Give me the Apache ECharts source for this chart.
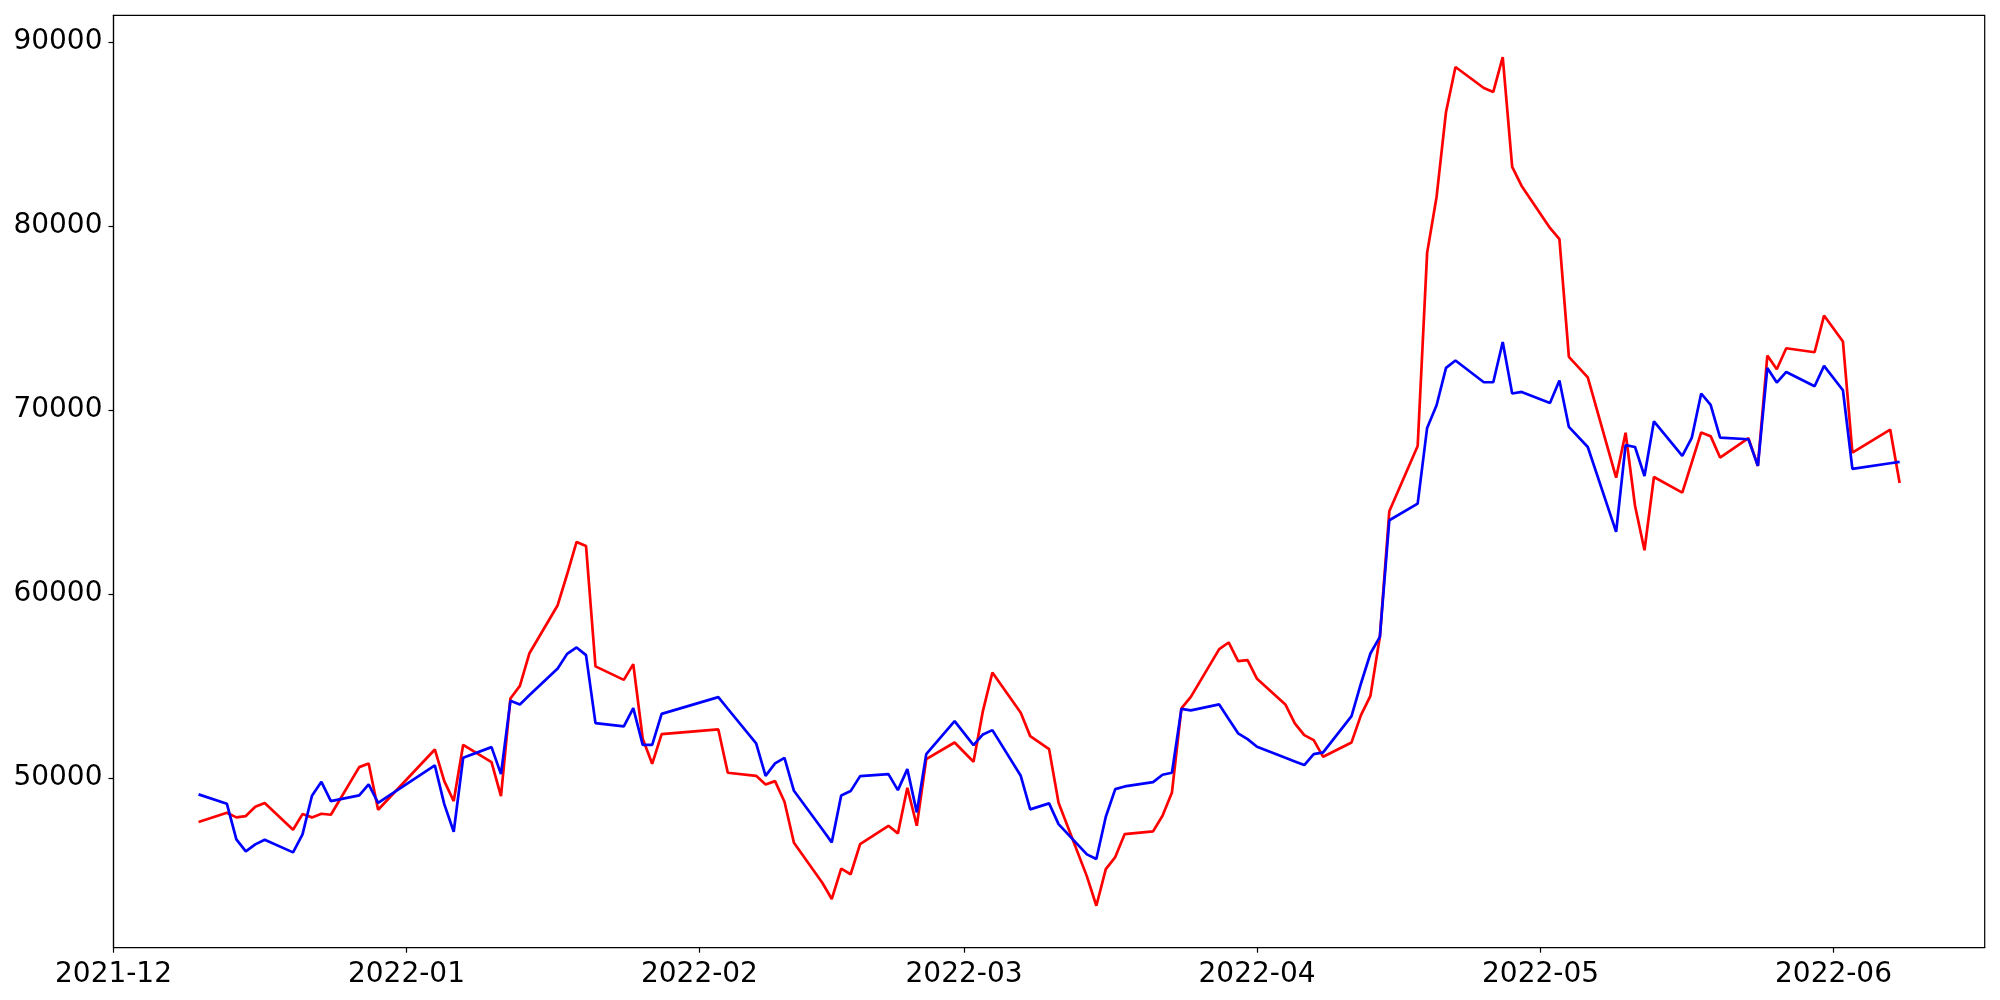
<!DOCTYPE html>
<html>
<head>
<meta charset="utf-8">
<script src="https://cdn.jsdelivr.net/npm/echarts@6/dist/echarts.min.js"></script>
<style>
html,body{margin:0;padding:0;background:#fff;}
#chart{width:2000px;height:1000px;}
</style>
</head>
<body>
<div id="chart"></div>
<script>
const dates = [
 '2021-12-10','2021-12-13','2021-12-14','2021-12-15','2021-12-16','2021-12-17','2021-12-20','2021-12-21','2021-12-22','2021-12-23','2021-12-24','2021-12-27','2021-12-28','2021-12-29',
 '2022-01-04','2022-01-05','2022-01-06','2022-01-07','2022-01-10','2022-01-11','2022-01-12','2022-01-13','2022-01-14','2022-01-17','2022-01-18','2022-01-19','2022-01-20','2022-01-21','2022-01-24','2022-01-25','2022-01-26','2022-01-27','2022-01-28',
 '2022-02-03','2022-02-04','2022-02-07','2022-02-08','2022-02-09','2022-02-10','2022-02-11','2022-02-14','2022-02-15','2022-02-16','2022-02-17','2022-02-18','2022-02-21','2022-02-22','2022-02-23','2022-02-24','2022-02-25','2022-02-28',
 '2022-03-02','2022-03-03','2022-03-04','2022-03-07','2022-03-08','2022-03-10','2022-03-11','2022-03-14','2022-03-15','2022-03-16','2022-03-17','2022-03-18','2022-03-21','2022-03-22','2022-03-23','2022-03-24','2022-03-25','2022-03-28','2022-03-29','2022-03-30','2022-03-31',
 '2022-04-01','2022-04-04','2022-04-05','2022-04-06','2022-04-07','2022-04-08','2022-04-11','2022-04-12','2022-04-13','2022-04-14','2022-04-15','2022-04-18','2022-04-19','2022-04-20','2022-04-21','2022-04-22','2022-04-25','2022-04-26','2022-04-27','2022-04-28','2022-04-29',
 '2022-05-02','2022-05-03','2022-05-04','2022-05-06','2022-05-09','2022-05-10','2022-05-11','2022-05-12','2022-05-13','2022-05-16','2022-05-17','2022-05-18','2022-05-19','2022-05-20','2022-05-23','2022-05-24','2022-05-25','2022-05-26','2022-05-27','2022-05-30','2022-05-31',
 '2022-06-02','2022-06-03','2022-06-07','2022-06-08'
];

const redValues = [
 47610,48116,47865,47936,48443,48642,47194,48044,47865,48062,48008,50597,50797,48280,
 51557,49837,48751,51810,50869,49022,54329,55014,56771,59397,61079,62836,62619,56072,55340,56193,52137,50777,52390,
 52645,50290,50125,49658,49837,48713,46485,44313,43427,45080,44774,46415,47409,46995,49474,47409,51032,51936,
 50887,53656,55742,53547,52282,51575,48660,44660,43063,45057,45709,46958,47105,47952,49223,53792,54416,57007,57371,56356,56410,
 55394,54003,52971,52336,52064,51157,51939,53422,54471,57681,64503,68051,78544,81586,86204,88648,87507,87290,89191,83215,82183,
 79901,79288,72894,71775,66325,68769,64803,62385,66367,65518,67143,68786,68584,67421,68475,66965,72963,72221,73361,73144,75138,
 73726,67692,68942,66043
];

const blueValues = [
 49115,48604,46670,46018,46398,46652,45964,46942,49040,49800,48751,49060,49658,48660,
 50690,48588,47085,51103,51684,50217,54199,54003,54499,55959,56752,57100,56682,52988,52807,53802,51810,51810,53493,
 54400,53770,51885,50125,50797,51103,49312,47219,46507,49060,49294,50109,50217,49348,50489,48137,51304,53096,
 51792,52373,52607,50125,48300,48626,47502,45855,45600,47898,49402,49548,49783,50180,50289,53765,53679,54004,53217,52434,52118,
 51700,51103,50907,50706,51303,51396,53367,55143,56773,57675,64014,64921,69033,70266,72292,72694,71515,71515,73705,70902,70989,
 70391,71607,69087,67996,63381,68095,67995,66417,69393,67508,68486,70902,70283,68509,68417,66967,72292,71499,72075,71298,72401,
 71081,66804,67112,67184
];

const xMin = '2021-12-01';
const xMax = '2022-06-17';
const yMin = 40783;
const yMax = 91457;

const redData = dates.map((d, i) => [d, redValues[i]]);
const blueData = dates.map((d, i) => [d, blueValues[i]]);

const FONT = 'DejaVu Sans';
const chart = echarts.init(document.getElementById('chart'), null, {renderer: 'canvas'});
chart.setOption({
  animation: false,
  backgroundColor: '#ffffff',
  grid: {
    left: 113.5, right: 15.3, top: 15.3, bottom: 52.3,
    show: true, borderColor: '#000', borderWidth: 1.2, backgroundColor: 'transparent'
  },
  xAxis: {
    type: 'time',
    min: xMin, max: xMax,
    splitNumber: 6,
    splitLine: {show: false},
    axisLine: {show: true, lineStyle: {color: '#000', width: 1.2}},
    axisTick: {show: true, length: 5, lineStyle: {color: '#000', width: 1.2}},
    minorTick: {show: false},
    axisLabel: {
      color: '#000', fontFamily: FONT, fontSize: 28, margin: 13,
      showMaxLabel: false,
      formatter: function (value) {
        const d = new Date(value);
        if (d.getDate() !== 1) return '';
        const m = d.getMonth() + 1;
        return d.getFullYear() + '-' + (m < 10 ? '0' + m : '' + m);
      }
    }
  },
  yAxis: {
    type: 'value',
    min: yMin, max: yMax,
    splitNumber: 5,
    splitLine: {show: false},
    axisLine: {show: true, lineStyle: {color: '#000', width: 1.2}},
    axisTick: {show: true, length: 5, lineStyle: {color: '#000', width: 1.2}},
    axisLabel: {
      color: '#000', fontFamily: FONT, fontSize: 28, margin: 11,
      showMinLabel: false, showMaxLabel: false,
      formatter: function (v) { return (v % 10000 === 0) ? String(v) : ''; }
    }
  },
  series: [
    {type: 'line', name: 'red', data: redData, showSymbol: false, symbol: 'none',
     lineStyle: {color: '#ff0000', width: 2.7}, itemStyle: {color: '#ff0000'}, z: 2},
    {type: 'line', name: 'blue', data: blueData, showSymbol: false, symbol: 'none',
     lineStyle: {color: '#0000ff', width: 2.7}, itemStyle: {color: '#0000ff'}, z: 3}
  ]
});
</script>
</body>
</html>
